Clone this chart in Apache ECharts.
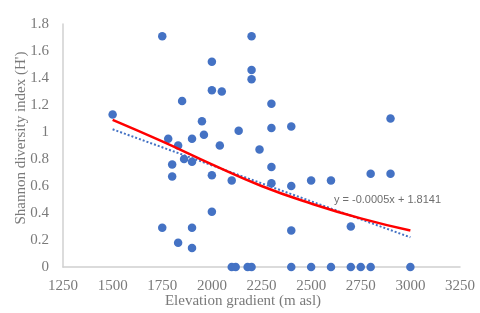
<!DOCTYPE html>
<html>
<head>
<meta charset="utf-8">
<script src="https://cdn.jsdelivr.net/npm/echarts@6/dist/echarts.min.js"></script>
<style>html,body{margin:0;padding:0;background:#fff}#c{width:480px;height:313px}</style>
</head>
<body>
<div id="c"></div>
<script>
// Observed elevation (m asl)
const elevation = [1500,1750,1850,2000,2000,2050,2135,1950,1780,1900,1960,1830,2040,2200,2200,2200,2300,2300,2400,2900,2240,1800,1800,1860,1900,2000,2100,2000,1750,1900,1830,1900,2300,2300,2400,2500,2600,2800,2900,2400,2700,
  2100,2120,2180,2200,2400,2500,2600,2700,2750,2800,3000];
// Shannon diversity index (H')
const shannon = [1.13,1.71,1.23,1.52,1.31,1.30,1.01,1.08,0.95,0.95,0.98,0.90,0.90,1.71,1.46,1.39,1.21,1.03,1.04,1.10,0.87,0.76,0.67,0.80,0.78,0.68,0.64,0.41,0.29,0.29,0.18,0.14,0.74,0.62,0.60,0.64,0.64,0.69,0.69,0.27,0.30,
  0,0,0,0,0,0,0,0,0,0,0];
// Red fitted curve
const curveX = [1500,1750,2000,2250,2500,2750,3000];
const curveY = [1.09,0.93,0.76,0.60,0.47,0.36,0.27];
// Linear trendline (dotted)
const linX = [1500,3000];
const linY = [1.02,0.22];
const equationText = 'y = -0.0005x + 1.8141';
const xTitle = 'Elevation gradient (m asl)';
const yTitle = "Shannon diversity index (H')";

const pts = elevation.map((x,i)=>[x,shannon[i]]);
const curve = curveX.map((x,i)=>[x,curveY[i]]);
const lin = linX.map((x,i)=>[x,linY[i]]);
const txt = '#7a7a7a';
const serif = '"Liberation Serif", "DejaVu Serif", serif';

const chart = echarts.init(document.getElementById('c'));
chart.setOption({
  animation:false,
  grid:{left:63,right:20,top:24,bottom:46},
  xAxis:{type:'value',min:1250,max:3250,interval:250,
    axisLine:{show:true,onZero:false,lineStyle:{color:'#d0d0d0',width:1.5}},
    axisTick:{show:false},splitLine:{show:false},
    axisLabel:{color:txt,fontFamily:serif,fontSize:15,margin:12,formatter:v=>String(v)}},
  yAxis:{type:'value',min:0,max:1.8,interval:0.2,
    axisLine:{show:true,lineStyle:{color:'#d0d0d0',width:1.5}},
    axisTick:{show:false},splitLine:{show:false},
    axisLabel:{color:txt,fontFamily:serif,fontSize:15,margin:14}},
  series:[
    {type:'scatter',data:pts,symbolSize:8.5,itemStyle:{color:'#4472C4',opacity:1},z:3},
    {type:'line',data:lin,showSymbol:false,lineStyle:{color:'#4472C4',width:2,type:[2,2]},z:4},
    {type:'line',data:curve,smooth:true,showSymbol:false,lineStyle:{color:'#FF0000',width:2.5},z:5}
  ],
  graphic:[
    {type:'text',left:334,top:194,style:{text:equationText,fill:'#6e6e6e',font:'11px "Liberation Sans", sans-serif'}},
    {type:'text',x:243,y:301,style:{text:xTitle,fill:txt,font:'15px '+serif,textAlign:'center',textVerticalAlign:'middle'}},
    {type:'text',x:21,y:138,rotation:Math.PI/2,style:{text:yTitle,fill:txt,font:'15px '+serif,textAlign:'center',textVerticalAlign:'middle'}}
  ]
});
</script>
</body>
</html>
